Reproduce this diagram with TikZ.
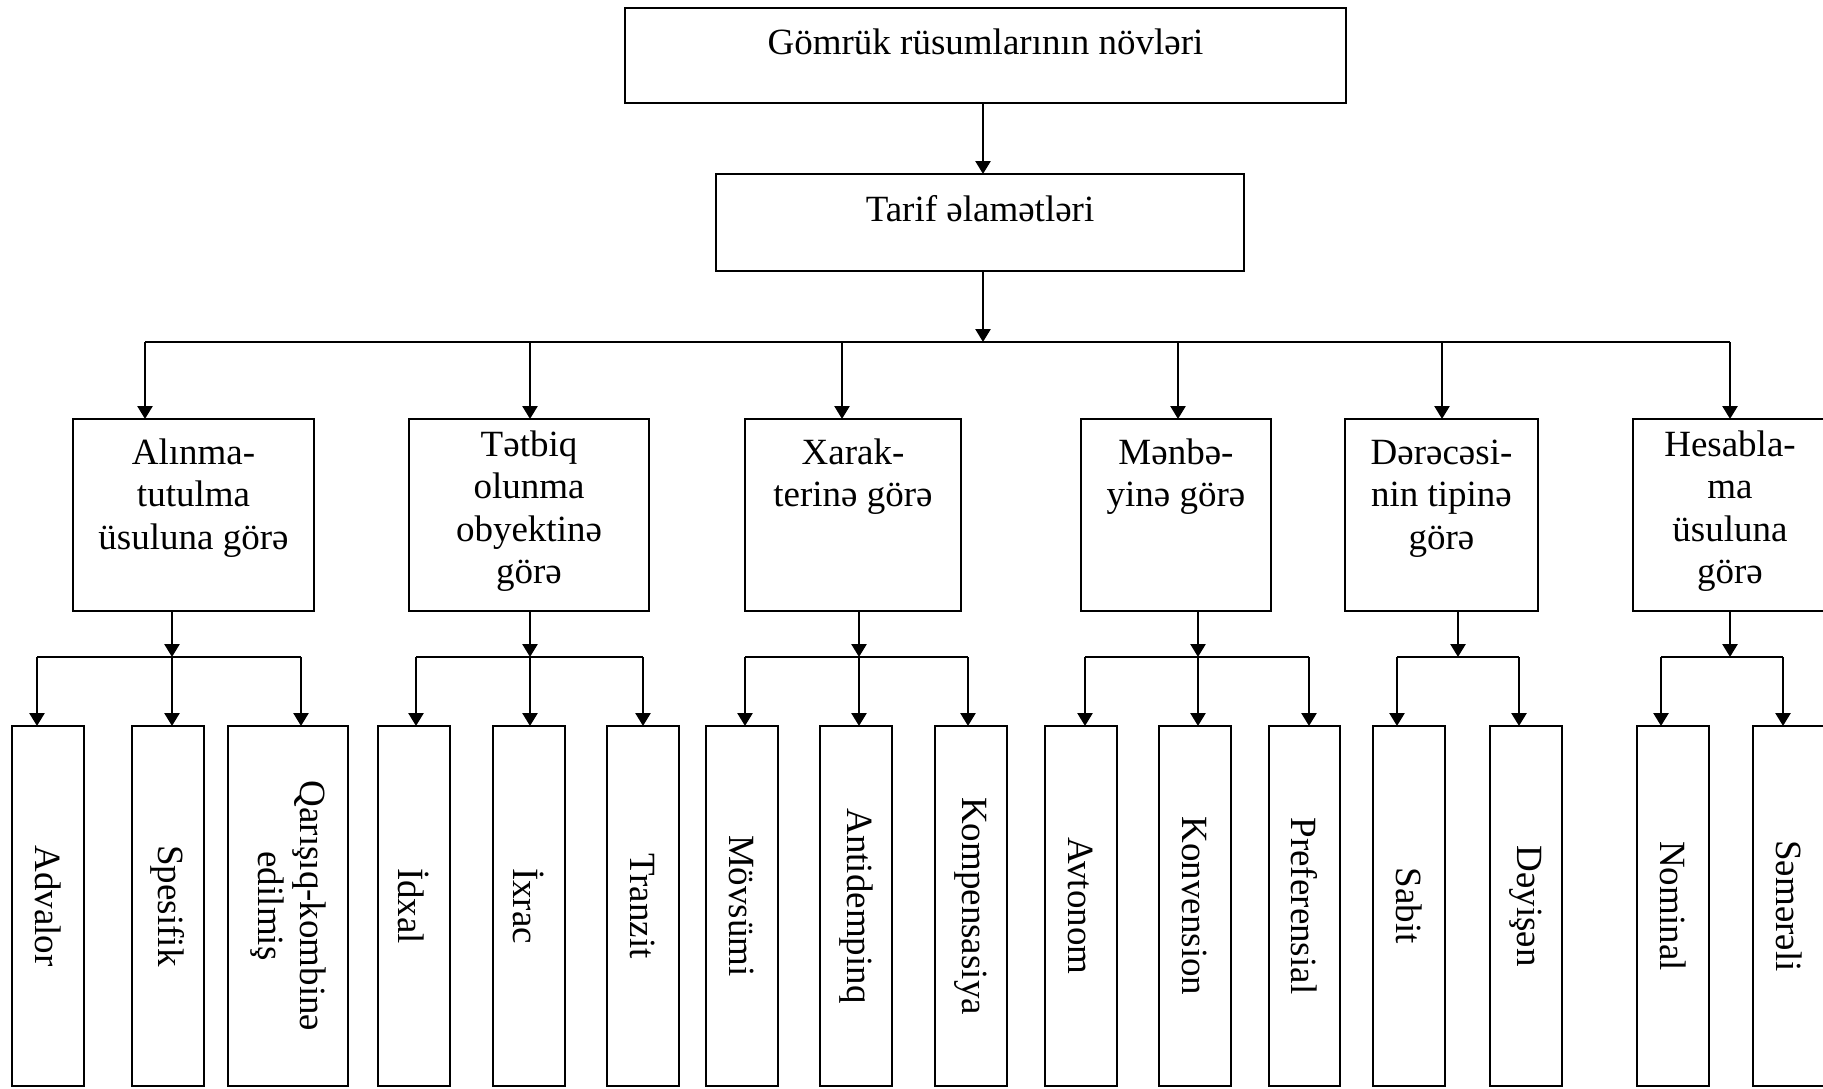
\documentclass[tikz,border=0pt]{standalone}
\usepackage{graphicx}
\usepackage{fontspec}
\setmainfont{Liberation Serif}
\usetikzlibrary{arrows.meta}

% text size used throughout the chart
\newcommand\chartfont{\fontsize{18.5pt}{21.25pt}\selectfont}
% framed box given by its corners (x1,y1,x2,y2), empty
\newcommand\boxnode[5]{%
  \node[frame, minimum width={(#4-#2)*0.5pt}, minimum height={(#5-#3)*0.5pt}]
    (#1) at ({(#2+#4)/2},{(#3+#5)/2}) {};}
% tall leaf box with text turned to read downwards
\newcommand\leafnode[4]{%
  \node[frame, lbl, minimum width={(#3-#2)*0.5pt}, minimum height=180pt]
    (#1) at ({(#2+#3)/2},906) {\rotatebox{-90}{#4}};}

\begin{document}
\begin{tikzpicture}[x=0.5pt,y=-0.5pt,
  frame/.style={draw, line width=1.2pt, inner sep=0pt, outer sep=0pt},
  lbl/.style={inner sep=0pt, font=\chartfont, align=center},
  arr/.style={line width=1.3pt, -{Triangle[length=6.5pt,width=7.5pt]}},
  wire/.style={line width=1.3pt}]

\useasboundingbox (0,0) rectangle (1823,1088);
\clip (0,0) rectangle (1823,1088);

% ---- top levels ----
\boxnode{t0}{625}{8}{1346}{103}
\node[lbl, anchor=base] (t0t) at ([yshift=-23pt]t0.north) {Gömrük rüsumlarının növləri};
\boxnode{t1}{716}{174}{1244}{271}
\node[lbl, anchor=base] (t1t) at ([yshift=-23.5pt]t1.north) {Tarif əlamətləri};

\coordinate (spine) at (983,342);
\draw[arr] (t0.south -| spine) -- (t1.north -| spine);
\draw[arr] (t1.south -| spine) -- (spine);

% ---- classification criteria ----
\boxnode{c1}{73}{419}{314}{611}
\boxnode{c2}{409}{419}{649}{611}
\boxnode{c3}{745}{419}{961}{611}
\boxnode{c4}{1081}{419}{1271}{611}
\boxnode{c5}{1345}{419}{1538}{611}
\boxnode{c6}{1633}{419}{1827}{611}

\node[lbl, anchor=north] (c1t) at ([yshift=-7.6pt]c1.north) {\strut Alınma-\\tutulma\\üsuluna görə};
\node[lbl, anchor=north] (c2t) at ([yshift=-3.6pt]c2.north) {\strut Tətbiq\\olunma\\obyektinə\\görə};
\node[lbl, anchor=north] (c3t) at ([yshift=-7.6pt]c3.north) {\strut Xarak-\\terinə görə};
\node[lbl, anchor=north] (c4t) at ([yshift=-7.6pt]c4.north) {\strut Mənbə-\\yinə görə};
\node[lbl, anchor=north] (c5t) at ([yshift=-7.6pt]c5.north) {\strut Dərəcəsi-\\nin tipinə\\görə};
\node[lbl, anchor=north] (c6t) at ([yshift=-3.6pt]c6.north) {\strut Hesabla-\\ma\\üsuluna\\görə};

% bus under the second level
\coordinate (d1) at (145,342);
\coordinate (d2) at (530,342);
\coordinate (d3) at (842,342);
\coordinate (d4) at (1178,342);
\coordinate (d5) at (1442,342);
\coordinate (d6) at (1730,342);
\draw[wire] (d1) -- (d6);
\foreach \i in {1,...,6} \draw[arr] (d\i) -- (d\i |- c\i.north);

% ---- leaves ----
\leafnode{l1}{12}{84}{Advalor}
\leafnode{l2}{132}{204}{Spesifik}
\leafnode{l3}{228}{348}{\begin{tabular}{@{}c@{}}Qarışıq-kombinə\\edilmiş\end{tabular}}
\leafnode{l4}{378}{450}{İdxal}
\leafnode{l5}{493}{565}{İxrac}
\leafnode{l6}{607}{679}{Tranzit}
\leafnode{l7}{706}{778}{Mövsümi}
\leafnode{l8}{820}{892}{Antidempinq}
\leafnode{l9}{935}{1007}{Kompensasiya}
\leafnode{l10}{1045}{1117}{Avtonom}
\leafnode{l11}{1159}{1231}{Konvension}
\leafnode{l12}{1269}{1340}{Preferensial}
\leafnode{l13}{1373}{1445}{Sabit}
\leafnode{l14}{1490}{1562}{Dəyişən}
\leafnode{l15}{1637}{1709}{Nominal}
\leafnode{l16}{1753}{1825}{Səmərəli}

% ---- branches from each criterion to its kinds ----
\coordinate (o1) at (172,657);
\coordinate (o2) at (530,657);
\coordinate (o3) at (859,657);
\coordinate (o4) at (1198,657);
\coordinate (o5) at (1458,657);
\coordinate (o6) at (1730,657);
\foreach \i in {1,...,6} \draw[arr] (o\i |- c\i.south) -- (o\i);

\coordinate (b1l) at (37,657);   \coordinate (b1r) at (301,657);
\coordinate (b2l) at (416,657);  \coordinate (b2r) at (643,657);
\coordinate (b3l) at (745,657);  \coordinate (b3r) at (968,657);
\coordinate (b4l) at (1085,657); \coordinate (b4r) at (1309,657);
\coordinate (b5l) at (1397,657); \coordinate (b5r) at (1519,657);
\coordinate (b6l) at (1661,657); \coordinate (b6r) at (1783,657);
\foreach \i in {1,...,6} \draw[wire] (b\i l) -- (b\i r);

\draw[arr] (b1l) -- (b1l |- l1.north);
\draw[arr] (o1)  -- (o1 |- l2.north);
\draw[arr] (b1r) -- (b1r |- l3.north);
\draw[arr] (b2l) -- (b2l |- l4.north);
\draw[arr] (o2)  -- (o2 |- l5.north);
\draw[arr] (b2r) -- (b2r |- l6.north);
\draw[arr] (b3l) -- (b3l |- l7.north);
\draw[arr] (o3)  -- (o3 |- l8.north);
\draw[arr] (b3r) -- (b3r |- l9.north);
\draw[arr] (b4l) -- (b4l |- l10.north);
\draw[arr] (o4)  -- (o4 |- l11.north);
\draw[arr] (b4r) -- (b4r |- l12.north);
\draw[arr] (b5l) -- (b5l |- l13.north);
\draw[arr] (b5r) -- (b5r |- l14.north);
\draw[arr] (b6l) -- (b6l |- l15.north);
\draw[arr] (b6r) -- (b6r |- l16.north);
\end{tikzpicture}
\end{document}
